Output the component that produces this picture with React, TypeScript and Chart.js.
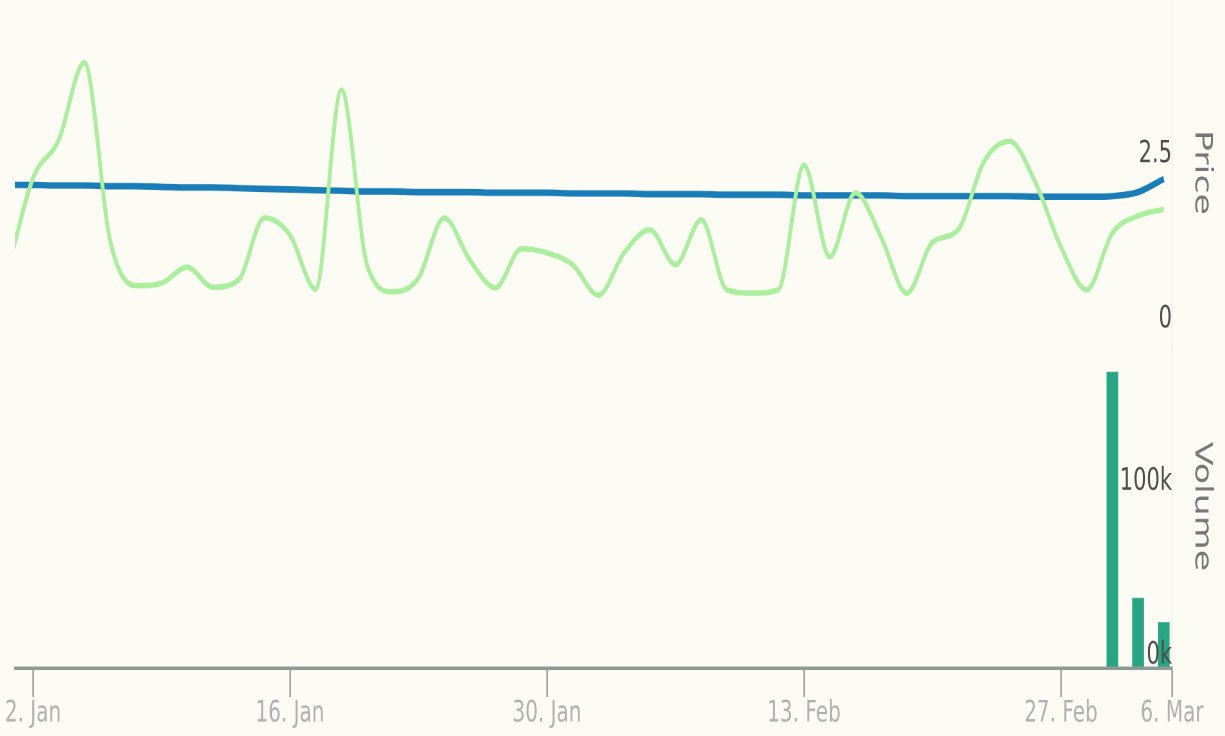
import { useEffect, useRef } from 'react';
import { Chart, registerables } from 'chart.js';

Chart.register(...registerables);

// Trading days (index i in the arrays is plotted at x = i - 1; 2 Jan = 0)
const days = [
  '2016-12-30',
  '2017-01-02', '2017-01-03', '2017-01-04', '2017-01-05', '2017-01-06',
  '2017-01-09', '2017-01-10', '2017-01-11', '2017-01-12', '2017-01-13',
  '2017-01-16', '2017-01-17', '2017-01-18', '2017-01-19', '2017-01-20',
  '2017-01-23', '2017-01-24', '2017-01-25', '2017-01-26', '2017-01-27',
  '2017-01-30', '2017-01-31', '2017-02-01', '2017-02-02', '2017-02-03',
  '2017-02-06', '2017-02-07', '2017-02-08', '2017-02-09', '2017-02-10',
  '2017-02-13', '2017-02-14', '2017-02-15', '2017-02-16', '2017-02-17',
  '2017-02-20', '2017-02-21', '2017-02-22', '2017-02-23', '2017-02-24',
  '2017-02-27', '2017-02-28', '2017-03-01', '2017-03-02', '2017-03-03',
];

const priceValues = [
  2.23, 2.23, 2.22, 2.22, 2.21, 2.21, 2.20, 2.19, 2.19, 2.18,
  2.17, 2.16, 2.15, 2.14, 2.13, 2.13, 2.12, 2.12, 2.12, 2.11,
  2.11, 2.11, 2.10, 2.10, 2.10, 2.09, 2.09, 2.09, 2.08, 2.08,
  2.08, 2.07, 2.07, 2.07, 2.07, 2.06, 2.06, 2.06, 2.06, 2.06,
  2.05, 2.05, 2.05, 2.06, 2.12, 2.32,
];

const secondValues = [
  0.90, 2.33, 2.91, 4.08, 1.39, 0.70, 0.74, 0.98, 0.68, 0.79,
  1.73, 1.47, 0.65, 3.67, 1.02, 0.61, 0.82, 1.73, 1.09, 0.67,
  1.26, 1.20, 1.02, 0.56, 1.20, 1.55, 1.02, 1.70, 0.64, 0.59,
  0.64, 2.53, 1.14, 2.11, 1.44, 0.59, 1.36, 1.55, 2.58, 2.89,
  2.27, 1.29, 0.64, 1.50, 1.76, 1.86,
];

const volumeValues = [
  0, 0, 0, 0, 0, 0, 0, 0, 0, 0,
  0, 0, 0, 0, 0, 0, 0, 0, 0, 0,
  0, 0, 0, 0, 0, 0, 0, 0, 0, 0,
  0, 0, 0, 0, 0, 0, 0, 0, 0, 0,
  0, 0, 0, 170000, 40000, 26000,
];

const xTickPositions = [0, 10, 20, 30, 40, 44.32];
const xTickLabels = ['2. Jan', '16. Jan', '30. Jan', '13. Feb', '27. Feb', '6. Mar'];
const priceTicks = [0, 2.5];
const volumeTicks = [0, 100000];

const FONT = '"DejaVu Sans", "Open Sans", sans-serif';

export default function App() {
  const ref = useRef<HTMLCanvasElement | null>(null);

  useEffect(() => {
    const canvas = ref.current;
    if (!canvas) return;
    const toPts = (vals: number[]) => vals.map((v, i) => ({ x: i - 1, y: v }));

    const chart = new Chart(canvas, {
      type: 'bar',
      data: {
        labels: days,
        datasets: [
          {
            type: 'line',
            label: 'Series 2',
            data: toPts(secondValues) as any,
            yAxisID: 'price',
            borderColor: '#abee9e',
            borderWidth: 3.8,
            pointRadius: 0,
            cubicInterpolationMode: 'monotone',
            order: 0,
          },
          {
            type: 'line',
            label: 'Price',
            data: toPts(priceValues) as any,
            yAxisID: 'price',
            borderColor: '#1a7db8',
            borderWidth: 4.5,
            pointRadius: 0,
            cubicInterpolationMode: 'monotone',
            order: 1,
          },
          {
            type: 'bar',
            label: 'Volume',
            data: toPts(volumeValues) as any,
            yAxisID: 'volume',
            backgroundColor: '#28a683',
            barThickness: 11,
            order: 2,
          },
        ],
      },
      options: {
        responsive: false,
        animation: false,
        devicePixelRatio: 2,
        layout: { padding: { left: 15, right: 0, top: 0, bottom: 0 } },
        plugins: { legend: { display: false }, tooltip: { enabled: false } },
        scales: {
          x: {
            type: 'linear',
            min: -0.7,
            max: 44.32,
            offset: false,
            afterBuildTicks: (s: any) => {
              s.ticks = xTickPositions.map((v) => ({ value: v }));
            },
            afterFit: (s: any) => {
              s.height = 47;
              s.paddingLeft = 0;
              s.paddingRight = 0;
            },
            grid: {
              offset: false,
              drawOnChartArea: false,
              drawTicks: true,
              tickLength: 20,
              color: '#7d7d7d',
              lineWidth: 1.2,
            },
            border: { display: true, color: '#8e9a95', width: 2.5, z: 1 },
            ticks: {
              autoSkip: false,
              maxRotation: 0,
              minRotation: 0,
              padding: 0,
              color: '#b0b0b0',
              font: { family: FONT, size: 20 },
              callback: (_v: any, i: number) => xTickLabels[i],
            },
          },
          price: {
            type: 'linear',
            axis: 'y',
            position: 'right',
            stack: 'panes',
            stackWeight: 238,
            min: -0.194,
            max: 5.031,
            afterBuildTicks: (s: any) => {
              s.ticks = priceTicks.map((v) => ({ value: v }));
            },
            afterFit: (s: any) => {
              s.width = 53;
              s.paddingTop = 0;
              s.paddingBottom = 0;
            },
            grid: { display: false },
            border: { display: true, color: 'rgba(190,212,218,0.35)', width: 1 },
            ticks: {
              mirror: true,
              padding: 0,
              z: 1,
              labelOffset: -8.6,
              color: '#4d4d4d',
              font: { family: FONT, size: 21 },
              callback: (v: any) => String(v),
            },
            title: {
              display: true,
              text: 'Price',
              color: '#777777',
              font: { family: FONT, size: 24 },
              padding: { top: 9, bottom: 0 },
            },
          },
          volume: {
            type: 'linear',
            axis: 'y',
            position: 'right',
            stack: 'panes',
            stackWeight: 223,
            min: 0,
            max: 185800,
            afterBuildTicks: (s: any) => {
              s.ticks = volumeTicks.map((v) => ({ value: v }));
            },
            afterFit: (s: any) => {
              s.width = 53;
              s.paddingTop = 0;
              s.paddingBottom = 0;
            },
            grid: { display: false },
            border: { display: true, color: 'rgba(190,212,218,0.35)', width: 1 },
            ticks: {
              mirror: true,
              padding: 0,
              z: 1,
              labelOffset: -8.6,
              color: '#4d4d4d',
              font: { family: FONT, size: 21 },
              callback: (v: any) => `${Number(v) / 1000}k`,
            },
            title: {
              display: true,
              text: 'Volume',
              color: '#777777',
              font: { family: FONT, size: 24 },
              padding: { top: 9, bottom: 0 },
            },
          },
        },
      } as any,
    });

    return () => chart.destroy();
  }, []);

  return (
    <div
      style={{
        position: 'fixed',
        left: 0,
        top: 0,
        width: 1225,
        height: 736,
        background: '#fcfcf5',
        overflow: 'hidden',
      }}
    >
      <canvas
        ref={ref}
        width={1225}
        height={508}
        style={{ display: 'block', width: '1225px', height: '736px' }}
      />
    </div>
  );
}
